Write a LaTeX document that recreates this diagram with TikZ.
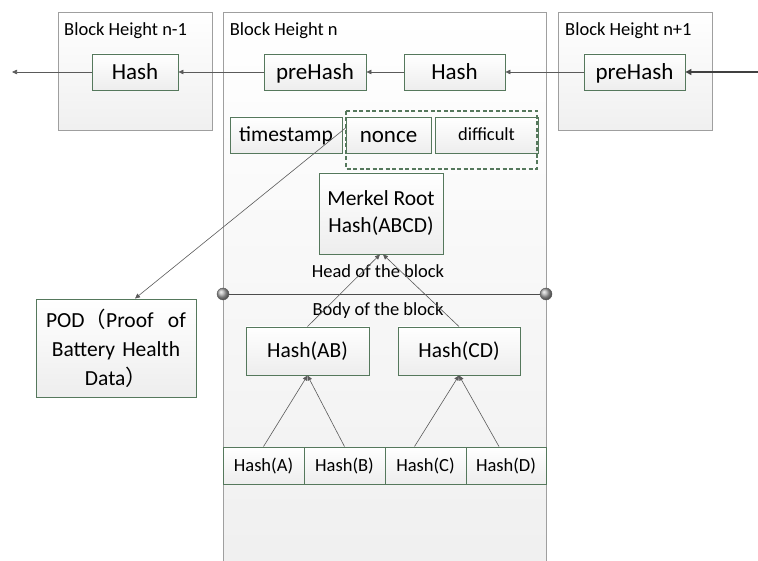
\documentclass[tikz,border=0pt]{standalone}
\usepackage{fontspec}
\setmainfont{Carlito}
\newfontfamily\cjk{Noto Sans CJK SC}
\usetikzlibrary{arrows.meta,calc}
\definecolor{boxg}{RGB}{85,120,92}
\definecolor{lineg}{RGB}{90,90,90}
\tikzset{
  blk/.style={draw=gray!75, line width=0.8pt, top color=white, bottom color=gray!12, inner sep=0pt},
  inbox/.style={draw=boxg, line width=0.9pt, top color=white, bottom color=gray!14, inner sep=0pt, align=center},
  big/.style={font=\fontsize{23}{27}\selectfont, text height=17.2pt, text depth=2.5pt},
  mid/.style={font=\fontsize{21.5}{27}\selectfont, text height=16.1pt, text depth=2.4pt},
  sml/.style={font=\fontsize{18.5}{22}\selectfont, text height=13.9pt, text depth=2pt},
  ttl/.style={font=\fontsize{18.5}{22}\selectfont, anchor=base west, inner sep=0pt},
  arr/.style={draw=lineg, line width=0.6pt, -{Triangle[length=5pt,width=4.5pt]}},
  arrthick/.style={draw=black!75, line width=1.4pt, -{Triangle[length=6pt,width=6pt]}},
  dot/.style={circle, minimum size=12pt, inner sep=0pt, shading=ball, ball color=gray!65, draw=gray!70!black},
}
\begin{document}
\begin{tikzpicture}[x=1pt,y=-1pt]
\useasboundingbox (0,0) rectangle (758,561);
% blocks
\node[blk, minimum width=154pt, minimum height=118pt] (bn1) at (135,71) {};
\node[blk, minimum width=323pt, minimum height=551pt] (bn) at (384.5,287.5) {};
\node[blk, minimum width=154pt, minimum height=118pt] (bp1) at (635,71) {};
\node[ttl] (t1) at (64,35.7) {Block Height n-1};
\node[ttl] (t2) at (229.7,35.7) {Block Height n};
\node[ttl] (t3) at (565,35.7) {Block Height n+1};
% chain
\node[inbox, big, minimum width=86pt, minimum height=36pt] (hn1) at (135,72) {Hash};
\node[inbox, big, minimum width=102pt, minimum height=36pt] (phn) at (315,72) {preHash};
\node[inbox, big, minimum width=101pt, minimum height=36pt] (hn) at (454.5,72) {Hash};
\node[inbox, big, minimum width=101pt, minimum height=36pt] (php) at (634.5,72) {preHash};
\coordinate (farleft) at (12,72);
\coordinate (farright) at (760,72);
\draw[arr] (hn1.west) -- (farleft);
\draw[arr] (phn.west) -- (hn1.east);
\draw[arr] (hn.west) -- (phn.east);
\draw[arr] (php.west) -- (hn.east);
\draw[arrthick] (farright) -- (php.east);
% header fields
\node[inbox, mid, minimum width=112pt, minimum height=36pt] (ts) at (286,135) {timestamp};
\node[inbox, big, minimum width=85pt, minimum height=36pt] (nonce) at (388.5,135) {nonce};
\node[inbox, sml, minimum width=103pt, minimum height=36pt] (diff) at (486.5,135) {difficult};
\draw[boxg, line width=1.1pt, dash pattern=on 4pt off 2.5pt] (346,111) rectangle (537,169);
\node[inbox, font=\fontsize{21.5}{27}\selectfont, minimum width=124pt, minimum height=81pt] (mr) at (381,213.5) {Merkel Root\\Hash(ABCD)};
\node[sml, inner sep=0pt] (head) at (378,272) {Head of the block};
\node[dot] (dl) at (223,294) {};
\node[dot] (dr) at (546,294) {};
\draw[black!70, line width=0.9pt] (dl) -- (dr);
\node[sml, inner sep=0pt] (body) at (378,310) {Body of the block};
% POD
\node[inbox, minimum width=160pt, minimum height=98pt, text width=150pt, font=\fontsize{21.5}{29}\selectfont] (pod) at (116,348) {POD{\cjk （}Proof\ \ of\\Battery Health\\Data{\cjk ）}};
\draw[arr] ([yshift=7pt]nonce.west) -- ([xshift=19pt]pod.north);
% merkle tree
\node[inbox, mid, minimum width=123pt, minimum height=48pt] (hab) at (307.5,351) {Hash(AB)};
\node[inbox, mid, minimum width=122pt, minimum height=48pt] (hcd) at (459,351) {Hash(CD)};
\node[inbox, sml, minimum width=81pt, minimum height=37pt] (ha) at (263.5,465.5) {Hash(A)};
\node[inbox, sml, minimum width=81pt, minimum height=37pt] (hb) at (344.5,465.5) {Hash(B)};
\node[inbox, sml, minimum width=81pt, minimum height=37pt] (hc) at (425.5,465.5) {Hash(C)};
\node[inbox, sml, minimum width=80pt, minimum height=37pt] (hd) at (506,465.5) {Hash(D)};
\draw[arr] (ha.north) -- (hab.south);
\draw[arr] (hb.north) -- (hab.south);
\draw[arr] ([xshift=-11pt]hc.north) -- (hcd.south);
\draw[arr] ([xshift=-7pt]hd.north) -- (hcd.south);
\draw[arr] (hab.north) -- ([xshift=-1pt]mr.south);
\draw[arr] (hcd.north) -- ([xshift=2pt]mr.south);
\end{tikzpicture}
\end{document}
